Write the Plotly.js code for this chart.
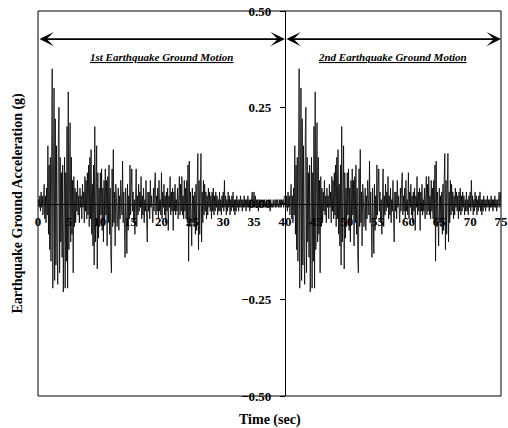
<!DOCTYPE html>
<html>
<head>
<meta charset="utf-8">
<script src="https://cdn.plot.ly/plotly-3.0.1.min.js"></script>
<style>html,body{margin:0;padding:0;background:#fff;}#chart{width:508px;height:428px;}</style>
</head>
<body>
<div id="chart"></div>
<script>
// Sampling interval of the record (s)
const dt = 0.1;
// Ground acceleration record (g), one sample per dt
const record = [
 0.00, 0.01,-0.01, 0.02,-0.02, 0.03,-0.01, 0.02,-0.03, 0.01,
 0.05,-0.04, 0.02,-0.05, 0.04,-0.03, 0.15,-0.08, 0.10,-0.12,
 0.12,-0.15, 0.20, 0.35,-0.22, 0.18, 0.30,-0.20, 0.22,-0.16,
 0.15,-0.12,-0.21, 0.18, 0.25,-0.18, 0.12,-0.10, 0.08,-0.14,
 0.10,-0.23, 0.06, 0.12,-0.22, 0.08,-0.15, 0.20,-0.22, 0.29,
-0.12, 0.14, 0.21,-0.10, 0.12,-0.08, 0.06,-0.18, 0.07,-0.06,
 0.04,-0.05, 0.03,-0.02, 0.06,-0.03, 0.02,-0.05, 0.04,-0.01,
 0.02,-0.04, 0.05,-0.01, 0.03,-0.05, 0.07,-0.02, 0.06,-0.04,
 0.08,-0.03, 0.10,-0.06, 0.12,-0.04, 0.14,-0.08, 0.05,-0.11,
 0.10,-0.16, 0.20,-0.10, 0.05, 0.15,-0.17, 0.08,-0.09, 0.04,
-0.06, 0.08,-0.03, 0.09,-0.07, 0.04,-0.10, 0.06,-0.04, 0.09,
-0.03, 0.06,-0.11, 0.07,-0.05, 0.10,-0.08, 0.04,-0.14,-0.18,
 0.09,-0.06, 0.14,-0.05, 0.03,-0.11, 0.05, 0.02,-0.06,-0.03,
 0.04,-0.07, 0.02,-0.04, 0.06, 0.01,-0.03, 0.11,-0.05, 0.03,
-0.06,-0.14, 0.04,-0.02,-0.13, 0.05,-0.07, 0.02,-0.04, 0.10,
-0.03, 0.04, 0.09,-0.02, 0.03,-0.05, 0.01,-0.08, 0.04, 0.09,
-0.06, 0.02,-0.03, 0.05,-0.02, 0.03,-0.01, 0.07,-0.04, 0.02,
-0.03, 0.04,-0.05, 0.01,-0.02, 0.06,-0.04,-0.10, 0.03,-0.02,
 0.03,-0.04, 0.06,-0.01, 0.02,-0.03,-0.05, 0.04,-0.02, 0.05,
 0.08,-0.03, 0.02,-0.02, 0.04,-0.04, 0.06,-0.02, 0.01,-0.03,
 0.08,-0.04, 0.03,-0.01, 0.05,-0.03, 0.02,-0.05, 0.03,-0.02,
 0.04,-0.07, 0.02,-0.01, 0.07,-0.03, 0.03,-0.02, 0.04,-0.07,
 0.03,-0.02, 0.05,-0.03, 0.01,-0.02, 0.04,-0.04, 0.06, 0.07,
-0.03, 0.05,-0.02, 0.07,-0.03, 0.02,-0.04, 0.06,-0.02, 0.04,
-0.04, 0.06,-0.05, 0.10,-0.15, 0.11,-0.06, 0.03,-0.04,-0.11,
 0.04,-0.05, 0.02,-0.06, 0.03,-0.08, 0.05,-0.07, 0.06, 0.13,
-0.12, 0.06,-0.08, 0.04, 0.13,-0.10, 0.03,-0.05, 0.06,-0.03,
 0.05,-0.02, 0.03,-0.04, 0.02,-0.03, 0.04,-0.01, 0.03,-0.02,
 0.02,-0.04, 0.03,-0.02, 0.04,-0.03, 0.02,-0.02, 0.03,-0.01,
 0.02,-0.03, 0.01,-0.02, 0.03,-0.02, 0.01,-0.03, 0.02,-0.01,
 0.03,-0.02, 0.06,-0.01, 0.02,-0.03, 0.01,-0.02, 0.03,-0.01,
 0.02,-0.03, 0.01,-0.02, 0.02,-0.01, 0.03,-0.02, 0.01,-0.03,
 0.01,-0.02, 0.02,-0.01, 0.01,-0.02, 0.01,-0.01, 0.02,-0.01,
 0.01,-0.02, 0.01,-0.01, 0.02,-0.01, 0.01,-0.02, 0.01,-0.01,
 0.02,-0.01, 0.01,-0.02, 0.01,-0.01, 0.02, 0.03,-0.01, 0.01,
 0.03,-0.01, 0.02,-0.01, 0.01,-0.01, 0.01,-0.02, 0.01,-0.01,
 0.01,-0.01, 0.01, 0.00,-0.01, 0.01,-0.01, 0.01,-0.01, 0.00,
 0.01,-0.01, 0.00, 0.01,-0.01, 0.01,-0.02, 0.01,-0.01, 0.00,
-0.01, 0.01,-0.01, 0.00, 0.01,-0.01, 0.01,-0.01, 0.01, 0.00,
-0.01, 0.01,-0.01, 0.01,-0.01, 0.01, 0.00, 0.01,-0.01, 0.02
];
// Start times of the two applications of the record (s)
const motionStarts = [0, 40];
const motionEnds = [40, 75];
const motionLabels = ['1st Earthquake Ground Motion', '2nd Earthquake Ground Motion'];
const labelCenters = [20, 57.5];
const xTicks = [0,5,10,15,20,25,30,35,40,45,50,55,60,65,70,75];
const yTicks = [-0.5,-0.25,0,0.25,0.5];

const serif = "'Liberation Serif', 'Times New Roman', serif";

const traces = motionStarts.map(function(t0){
  return {
    type: 'scatter', mode: 'lines',
    x: record.map(function(_, i){ return +(t0 + i*dt).toFixed(2); }),
    y: record,
    line: {color: '#000', width: 0.8},
    hoverinfo: 'skip', showlegend: false
  };
});

const annotations = [];
motionStarts.forEach(function(t0, k){
  annotations.push({
    x: motionEnds[k], y: 0.427, ax: t0, ay: 0.427,
    xref: 'x', yref: 'y', axref: 'x', ayref: 'y',
    text: '', showarrow: true, arrowside: 'end+start',
    arrowhead: 3, startarrowhead: 3, arrowsize: 1.5, startarrowsize: 1.5,
    arrowwidth: 1.6, arrowcolor: '#000', standoff: 0, startstandoff: 0
  });
  annotations.push({
    x: labelCenters[k], y: 0.38, xref: 'x', yref: 'y',
    text: '<u><b><i>' + motionLabels[k] + '</i></b></u>',
    showarrow: false, font: {family: serif, size: 11, color: '#000'}
  });
});
annotations.push({
  x: 0.5, y: -(420-396)/385, xref: 'paper', yref: 'paper',
  xanchor: 'center', yanchor: 'middle',
  text: '<b>Time (sec)</b>', showarrow: false,
  font: {family: serif, size: 14, color: '#000'}
});
annotations.push({
  x: -21/463, y: 0.5, xref: 'paper', yref: 'paper',
  xanchor: 'center', yanchor: 'middle',
  text: '<b>Earthquake Ground Acceleration (g)</b>', textangle: -90, showarrow: false,
  font: {family: serif, size: 14, color: '#000'}
});

const layout = {
  width: 508, height: 428,
  margin: {l: 38, r: 7, t: 11, b: 32},
  paper_bgcolor: '#fff', plot_bgcolor: '#fff',
  showlegend: false,
  xaxis: {
    range: [0, 75], tickvals: xTicks, ticktext: xTicks.map(String),
    anchor: 'free', position: 0.5,
    showline: true, linecolor: '#000', linewidth: 1,
    showgrid: false, zeroline: false, ticks: '',
    ticklabelstandoff: 6,
    layer: 'below traces',
    tickfont: {family: serif, size: 13, color: '#000', weight: 'bold'}
  },
  yaxis: {
    range: [-0.5, 0.5], tickvals: yTicks, tickformat: '.2f',
    anchor: 'free', position: 40/75,
    showline: true, linecolor: '#000', linewidth: 1,
    showgrid: false, zeroline: false,
    ticks: 'outside', ticklen: 5, tickcolor: '#000',
    ticklabelstandoff: 6,
    layer: 'below traces',
    tickfont: {family: serif, size: 13, color: '#000', weight: 'bold'}
  },
  shapes: [{type: 'rect', xref: 'paper', yref: 'paper', x0: 0, x1: 1, y0: 0, y1: 1,
            line: {color: '#000', width: 1}, layer: 'above'}],
  annotations: annotations
};

Plotly.newPlot('chart', traces, layout, {displayModeBar: false, staticPlot: true});
</script>
</body>
</html>
